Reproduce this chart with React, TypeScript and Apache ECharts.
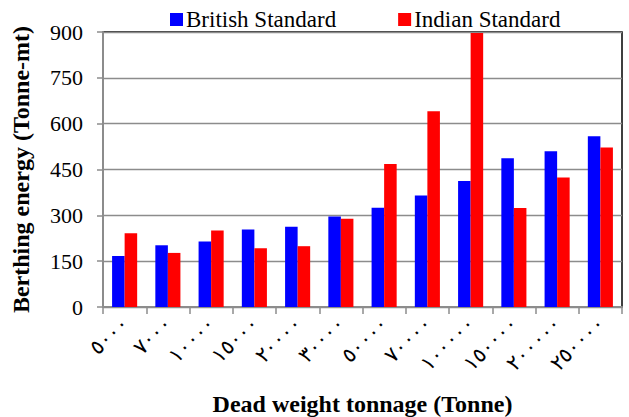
import React, { useEffect, useRef } from "react";
import * as echarts from "echarts";

const categories = ["٥٠٠٠", "٧٠٠٠", "١٠٠٠٠", "١٥٠٠٠", "٢٠٠٠٠", "٣٠٠٠٠", "٥٠٠٠٠", "٧٠٠٠٠", "١٠٠٠٠٠", "١٥٠٠٠٠", "٢٠٠٠٠٠", "٢٥٠٠٠٠"];
const britishStandard = [167, 202, 214, 254, 263, 296, 325, 365, 412, 487, 510, 559];
const indianStandard = [241, 177, 250, 192, 199, 289, 468, 641, 897, 324, 424, 522];
const seriesNames = ["British Standard", "Indian Standard"];

const FONT = '"Liberation Serif", "Times New Roman", serif';

export default function App() {
  const ref = useRef<HTMLDivElement>(null);
  useEffect(() => {
    if (!ref.current) return;
    const chart = echarts.init(ref.current, undefined, { renderer: "svg" });
    chart.setOption({
      animation: false,
      backgroundColor: "#fff",
      textStyle: { fontFamily: FONT, color: "#000" },
      legend: {
        left: 165,
        top: 3,
        itemWidth: 13,
        itemHeight: 13,
        itemGap: 62,
        icon: "rect",
        textStyle: { fontFamily: FONT, fontSize: 23, color: "#000", padding: [0, 0, 0, -2] },
        data: seriesNames,
      },
      grid: {
        left: 103,
        right: 7,
        top: 32,
        bottom: 110,
        containLabel: false,
        outerBoundsMode: "none",
        show: true,
        borderColor: "#000",
        borderWidth: 1.5,
      },
      xAxis: {
        type: "category",
        data: categories,
        boundaryGap: true,
        name: "Dead weight tonnage (Tonne)",
        nameLocation: "middle",
        nameGap: 85,
        nameTextStyle: { fontFamily: FONT, fontSize: 24, fontWeight: "bold", color: "#000" },
        axisLine: { lineStyle: { color: "#8c8c8c", width: 2 } },
        axisTick: { show: true, length: 7, lineStyle: { color: "#8c8c8c", width: 1.5 } },
        axisLabel: { rotate: 45, fontSize: 21, color: "#000", fontFamily: FONT, margin: 13, interval: 0 },
      },
      yAxis: {
        type: "value",
        min: 0,
        max: 900,
        interval: 150,
        name: "Berthing energy (Tonne-mt)",
        nameLocation: "middle",
        nameGap: 70,
        nameTextStyle: { fontFamily: FONT, fontSize: 24, fontWeight: "bold", color: "#000" },
        axisLine: { show: true, lineStyle: { color: "#8c8c8c", width: 2 } },
        axisTick: { show: true, length: 6, lineStyle: { color: "#8c8c8c", width: 1.5 } },
        axisLabel: { fontSize: 22, color: "#000", fontFamily: FONT, margin: 20 },
        splitLine: { lineStyle: { color: "#8c8c8c", width: 1.3 } },
      },
      series: [
        {
          name: seriesNames[0],
          type: "bar",
          data: britishStandard,
          itemStyle: { color: "#0000ff" },
          barGap: "0%",
          barCategoryGap: "42%",
        },
        {
          name: seriesNames[1],
          type: "bar",
          data: indianStandard,
          itemStyle: { color: "#ff0000" },
          barGap: "0%",
          barCategoryGap: "42%",
        },
      ],
    });
    return () => chart.dispose();
  }, []);
  return <div ref={ref} style={{ width: 629, height: 417, position: "absolute", left: 0, top: 0 }} />;
}
